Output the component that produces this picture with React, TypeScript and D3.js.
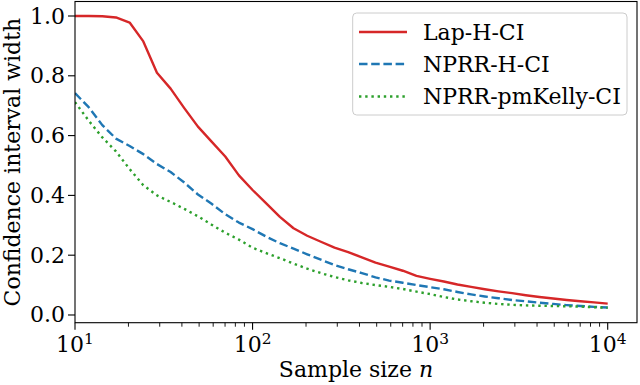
import React from "react";
import * as d3 from "d3";

const sampleSizes = [10, 11.94, 14.25, 17.01, 20.31, 24.25, 28.94, 34.55, 41.25, 49.24, 58.78, 70.17, 83.77, 100, 119.4, 142.5, 170.1, 203.1, 242.5, 289.4, 345.5, 412.5, 492.4, 587.8, 701.7, 837.7, 1000, 1194, 1425, 1701, 2031, 2425, 2894, 3455, 4125, 4924, 5878, 7017, 8377, 10000];

const lapH = [1.0, 1.0, 0.999, 0.995, 0.978, 0.915, 0.81, 0.757, 0.692, 0.63, 0.58, 0.53, 0.467, 0.418, 0.373, 0.328, 0.29, 0.265, 0.245, 0.225, 0.21, 0.193, 0.175, 0.162, 0.148, 0.131, 0.121, 0.112, 0.102, 0.094, 0.086, 0.079, 0.073, 0.066, 0.06, 0.055, 0.05, 0.046, 0.042, 0.038];

const nprrH = [0.742, 0.695, 0.635, 0.59, 0.565, 0.538, 0.505, 0.478, 0.443, 0.403, 0.372, 0.337, 0.309, 0.287, 0.262, 0.24, 0.222, 0.203, 0.185, 0.167, 0.153, 0.14, 0.126, 0.115, 0.108, 0.1, 0.093, 0.086, 0.077, 0.069, 0.062, 0.056, 0.05, 0.046, 0.041, 0.037, 0.033, 0.03, 0.027, 0.025];

const nprrKelly = [0.712, 0.65, 0.594, 0.547, 0.488, 0.434, 0.4, 0.378, 0.355, 0.33, 0.302, 0.275, 0.252, 0.225, 0.207, 0.19, 0.172, 0.155, 0.14, 0.127, 0.116, 0.107, 0.1, 0.094, 0.087, 0.078, 0.07, 0.06, 0.052, 0.046, 0.041, 0.037, 0.034, 0.032, 0.031, 0.03, 0.029, 0.028, 0.026, 0.024];

const seriesNames = ["Lap-H-CI", "NPRR-H-CI", "NPRR-pmKelly-CI"];
const yTicks = [0, 0.2, 0.4, 0.6, 0.8, 1.0];
const xMajorTicks = [10, 100, 1000, 10000];
const xLabel = "Sample size ";
const yLabel = "Confidence interval width";

const W = 640;
const H = 385;
const L = 75;
const R = 637;
const T = 1.5;
const B = 322.7;
const FONT = "'DejaVu Serif', serif";
const FS = 22;

export default function App() {
  const x = d3.scaleLog().domain([10, Math.pow(10, 4.165)]).range([L, R]);
  const y = d3.scaleLinear().domain([-0.0258, 1.0485]).range([B, T]);

  const styles = [
    { color: "#d62728", dash: undefined as string | undefined },
    { color: "#1f77b4", dash: "8.5,3.7" },
    { color: "#2ca02c", dash: "2.4,3.8" },
  ];
  const data = [lapH, nprrH, nprrKelly];

  const line = d3
    .line<[number, number]>()
    .x((d) => x(d[0]))
    .y((d) => y(d[1]));

  const minorTicks: number[] = [];
  for (let dec = 10; dec <= 10000; dec *= 10) {
    for (let k = 2; k <= 9; k++) {
      const v = dec * k;
      if (x(v) <= R) minorTicks.push(v);
    }
  }

  const legX = 352.7;
  const legY = 13;
  const legW = 274.3;
  const legH = 102;
  const rowY = [32, 64, 96.5];

  return (
    <svg
      width={W}
      height={H}
      style={{ position: "absolute", left: 0, top: 0, background: "#fff" }}
      fontFamily={FONT}
    >
      <rect x={0} y={0} width={W} height={H} fill="#fff" />
      <defs>
        <clipPath id="plotclip">
          <rect x={L} y={T} width={R - L} height={B - T} />
        </clipPath>
      </defs>
      <g clipPath="url(#plotclip)">
        {data.map((vals, i) => (
          <path
            key={i}
            d={line(sampleSizes.map((n, j) => [n, vals[j]] as [number, number])) || ""}
            fill="none"
            stroke={styles[i].color}
            strokeWidth={2.4}
            strokeDasharray={styles[i].dash}
            strokeLinejoin="round"
          />
        ))}
      </g>
      {/* frame */}
      <rect x={L} y={T} width={R - L} height={B - T} fill="none" stroke="#000" strokeWidth={1.1} />
      {/* y ticks */}
      {yTicks.map((t) => (
        <g key={t}>
          <line x1={L - 7} x2={L} y1={y(t)} y2={y(t)} stroke="#000" strokeWidth={1.1} />
          <text x={L - 10} y={y(t)} textAnchor="end" dominantBaseline="central" fontSize={FS}>
            {t.toFixed(1)}
          </text>
        </g>
      ))}
      {/* x minor ticks */}
      {minorTicks.map((t) => (
        <line key={t} x1={x(t)} x2={x(t)} y1={B} y2={B + 4} stroke="#000" strokeWidth={0.9} />
      ))}
      {/* x major ticks */}
      {xMajorTicks.map((t) => (
        <g key={t}>
          <line x1={x(t)} x2={x(t)} y1={B} y2={B + 7} stroke="#000" strokeWidth={1.1} />
          <text x={x(t)} y={352} textAnchor="middle" fontSize={FS}>
            10
            <tspan fontSize={FS * 0.7} dy={-8}>
              {Math.round(Math.log10(t))}
            </tspan>
          </text>
        </g>
      ))}
      <text x={(L + R) / 2} y={377} textAnchor="middle" fontSize={FS}>
        {xLabel}
        <tspan fontStyle="italic">n</tspan>
      </text>
      <text
        transform={`translate(20, ${(T + B) / 2}) rotate(-90)`}
        textAnchor="middle"
        fontSize={FS}
      >
        {yLabel}
      </text>
      {/* legend */}
      <rect
        x={legX}
        y={legY}
        width={legW}
        height={legH}
        rx={4}
        fill="#fff"
        fillOpacity={0.8}
        stroke="#cccccc"
        strokeWidth={1}
      />
      {seriesNames.map((name, i) => (
        <g key={name}>
          <line
            x1={359}
            x2={407}
            y1={rowY[i]}
            y2={rowY[i]}
            stroke={styles[i].color}
            strokeWidth={2.4}
            strokeDasharray={styles[i].dash}
          />
          <text x={423} y={rowY[i]} dominantBaseline="central" fontSize={FS}>
            {name}
          </text>
        </g>
      ))}
    </svg>
  );
}
